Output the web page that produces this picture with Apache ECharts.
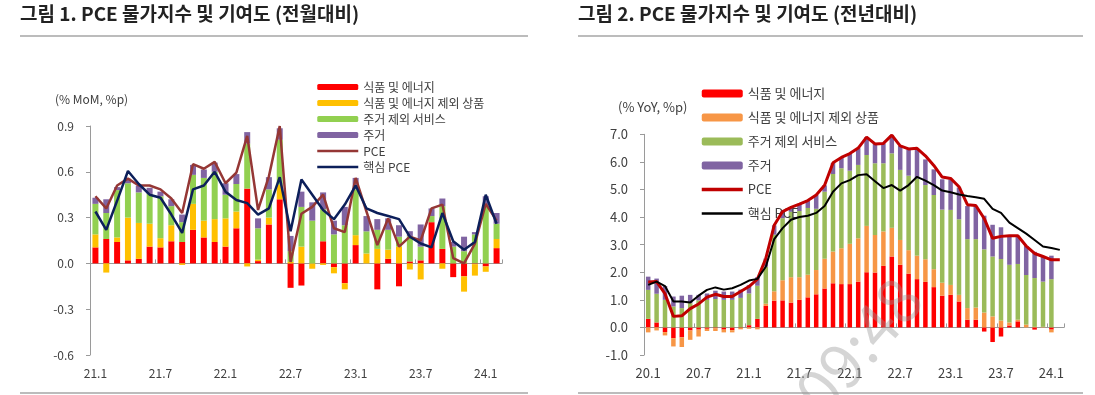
<!DOCTYPE html>
<html>
<head>
<meta charset="utf-8">
<script src="https://cdn.jsdelivr.net/npm/echarts@6/dist/echarts.min.js"></script>
<style>
html,body{margin:0;padding:0;background:#fff;}
#c{width:1095px;height:395px;}
</style>
</head>
<body>
<div id="c"></div>
<script>
// ---------- Figure 1 (MoM) ----------
const leftCats = ['21.1','21.2','21.3','21.4','21.5','21.6','21.7','21.8','21.9','21.10','21.11','21.12',
  '22.1','22.2','22.3','22.4','22.5','22.6','22.7','22.8','22.9','22.10','22.11','22.12',
  '23.1','23.2','23.3','23.4','23.5','23.6','23.7','23.8','23.9','23.10','23.11','23.12',
  '24.1','24.2'];
const leftFoodEnergy = [0.105,0.16,0.14,0.02,0.03,0.11,0.105,0.145,0.14,0.22,0.17,0.14,
  0.11,0.23,0.49,0.015,0.255,0.42,-0.16,-0.145,0.0,0.145,-0.025,-0.13,
  0.12,0.0,-0.17,0.03,-0.15,0.013,0.02,0.27,0.095,-0.09,-0.085,-0.005,
  -0.02,0.1];
const leftCoreGoods = [0.085,-0.06,0.03,0.28,0.235,0.15,0.06,0.105,-0.01,0.17,0.11,0.15,
  0.185,0.11,-0.02,0.01,0.045,0.095,0.01,0.11,-0.035,-0.01,-0.04,-0.04,
  0.065,0.065,0.095,0.06,0.11,-0.04,-0.105,0.0,-0.035,0.0,-0.1,-0.075,
  -0.035,0.06];
const leftServices = [0.2,0.17,0.31,0.225,0.2,0.195,0.275,0.125,0.13,0.19,0.28,0.31,
  0.155,0.18,0.295,0.205,0.185,0.295,0.07,0.26,0.28,0.21,0.19,0.25,
  0.3,0.145,0.125,0.13,0.065,0.165,0.09,0.04,0.28,0.11,0.08,0.19,
  0.37,0.1];
const leftHousing = [0.04,0.09,0.02,0.03,0.045,0.04,0.03,0.045,0.05,0.065,0.055,0.06,
  0.075,0.065,0.075,0.065,0.08,0.075,0.1,0.1,0.12,0.11,0.09,0.12,
  0.075,0.1,0.07,0.075,0.075,0.033,0.145,0.05,0.05,0.03,0.095,0.015,
  0.07,0.07];
const leftPCE = [0.44,0.36,0.51,0.555,0.51,0.51,0.485,0.425,0.33,0.65,0.62,0.665,
  0.525,0.595,0.835,0.35,0.57,0.9,0.01,0.325,0.37,0.45,0.23,0.205,
  0.56,0.34,0.12,0.295,0.11,0.175,0.15,0.36,0.385,0.035,0.0,0.13,
  0.39,0.28];
const leftCorePCE = [0.34,0.22,0.41,0.605,0.52,0.45,0.43,0.32,0.2,0.485,0.51,0.6,
  0.47,0.415,0.395,0.32,0.36,0.565,0.21,0.55,0.45,0.35,0.29,0.385,
  0.51,0.36,0.33,0.31,0.29,0.175,0.13,0.105,0.33,0.145,0.09,0.14,
  0.45,0.26];

// ---------- Figure 2 (YoY) ----------
const rightCats = ['20.1','20.2','20.3','20.4','20.5','20.6','20.7','20.8','20.9','20.10','20.11','20.12',
  '21.1','21.2','21.3','21.4','21.5','21.6','21.7','21.8','21.9','21.10','21.11','21.12',
  '22.1','22.2','22.3','22.4','22.5','22.6','22.7','22.8','22.9','22.10','22.11','22.12',
  '23.1','23.2','23.3','23.4','23.5','23.6','23.7','23.8','23.9','23.10','23.11','23.12',
  '24.1','24.2'];
const rightFoodEnergy = [0.31,0.18,-0.17,-0.39,-0.36,-0.11,-0.08,-0.05,-0.03,-0.08,-0.1,-0.02,
  0.08,0.31,0.78,0.97,0.98,0.9,1.0,1.09,1.2,1.41,1.6,1.57,
  1.57,1.66,2.0,1.99,2.23,2.57,2.27,1.95,1.75,1.65,1.46,1.15,
  1.18,0.94,0.28,0.28,-0.15,-0.53,-0.33,0.07,0.22,0.0,-0.08,0.0,
  -0.08,null];
const rightCoreGoods = [-0.18,-0.11,-0.12,-0.3,-0.35,-0.34,-0.25,-0.08,-0.1,-0.1,-0.08,-0.05,
  -0.05,-0.07,0.08,0.34,0.73,0.92,0.82,0.82,0.88,1.08,1.15,1.3,
  1.46,1.57,1.68,1.36,1.25,1.04,0.9,0.85,0.85,0.82,0.65,0.47,
  0.36,0.24,0.42,0.44,0.54,0.4,0.25,0.11,0.06,0.1,0.02,0.02,
  -0.1,null];
const rightServices = [1.05,1.04,1.0,0.76,0.7,0.88,0.98,1.0,1.03,1.0,1.0,1.07,
  1.15,1.2,1.34,2.05,2.25,2.37,2.4,2.42,2.22,2.43,2.81,2.9,
  2.65,2.66,2.57,2.6,2.47,2.7,2.54,2.7,2.8,2.69,2.69,2.65,
  2.72,2.74,2.5,2.48,2.29,2.17,2.23,2.09,2.02,1.8,1.77,1.64,
  1.75,null];
const rightHousing = [0.48,0.55,0.5,0.36,0.45,0.3,0.2,0.23,0.3,0.3,0.3,0.3,
  0.3,0.31,0.3,0.34,0.25,0.16,0.25,0.27,0.5,0.23,0.4,0.39,
  0.62,0.61,0.65,0.7,0.72,0.66,0.87,0.95,1.05,0.93,0.93,1.1,
  1.1,1.15,1.2,1.2,1.22,1.15,1.15,1.05,1.02,1.05,0.95,0.91,
  0.85,null];
const rightPCE = [1.65,1.66,1.22,0.4,0.42,0.68,0.85,1.1,1.2,1.12,1.12,1.3,
  1.48,1.75,2.5,3.7,4.2,4.35,4.47,4.6,4.8,5.15,5.97,6.16,
  6.3,6.5,6.9,6.65,6.67,6.97,6.58,6.47,6.49,6.22,5.87,5.45,
  5.4,5.1,4.45,4.42,3.95,3.23,3.3,3.32,3.32,2.95,2.68,2.57,
  2.45,2.45];
const rightCorePCE = [1.54,1.66,1.5,0.94,0.94,0.9,1.15,1.36,1.45,1.37,1.42,1.54,
  1.7,1.76,2.2,3.2,3.6,3.9,4.0,4.05,4.15,4.4,4.92,5.22,
  5.34,5.52,5.55,5.3,5.05,5.16,4.96,5.16,5.46,5.32,5.16,4.96,
  4.9,4.82,4.76,4.72,4.66,4.3,4.15,3.8,3.6,3.4,3.17,2.93,
  2.88,2.81];

const leftNames = ['식품 및 에너지','식품 및 에너지 제외 상품','주거 제외 서비스','주거','PCE','핵심 PCE'];
// trailing space keeps right-panel series distinct from left-panel ones
const rightNames = leftNames.map(n => n + ' ');

const FONT = '"Noto Sans CJK KR","Noto Sans",sans-serif';
const TXT = '#404040';
const AX = '#9a9a9a';

const chart = echarts.init(document.getElementById('c'), null, {renderer: 'canvas'});

function barSeries(name, data, color, xi, yi, stack, bw) {
  return {name, type: 'bar', data, stack, xAxisIndex: xi, yAxisIndex: yi,
    barWidth: bw, itemStyle: {color}, emphasis: {disabled: true}, animation: false};
}
function lineSeries(name, data, color, width, xi, yi) {
  return {name, type: 'line', data, xAxisIndex: xi, yAxisIndex: yi, symbol: 'none',
    lineStyle: {color, width}, itemStyle: {color}, z: 5, emphasis: {disabled: true}, animation: false};
}
// legend entries: line series get no marker dot
const legendData = (names, widths) => names.map((n, i) => i >= 4
  ? {name: n, itemStyle: {opacity: 0, color: 'rgba(0,0,0,0)', borderWidth: 0},
     lineStyle: {width: widths[i - 4]}}
  : {name: n});

const catAxisLine = (gi, cats) => ({
  type: 'category', gridIndex: gi, data: cats, boundaryGap: true, position: 'bottom',
  axisLine: {show: true, onZero: true, lineStyle: {color: AX, width: 1}},
  axisTick: {show: true, inside: true, interval: 5, length: 4, lineStyle: {color: AX}},
  axisLabel: {show: false}, splitLine: {show: false}
});
const catAxisLabel = (gi, cats, fs) => ({
  type: 'category', gridIndex: gi, data: cats, boundaryGap: true, position: 'bottom',
  axisLine: {show: false, onZero: false}, axisTick: {show: false},
  axisLabel: {show: true, interval: 5, margin: 12, color: TXT, fontSize: fs, fontFamily: FONT},
  splitLine: {show: false}
});

const option = {
  animation: false,
  backgroundColor: '#fff',
  grid: [
    {left: 90, top: 126, width: 412, height: 229},
    {left: 644, top: 134.3, width: 420, height: 220.7}
  ],
  xAxis: [
    catAxisLine(0, leftCats), catAxisLabel(0, leftCats, 12),
    catAxisLine(1, rightCats), catAxisLabel(1, rightCats, 13)
  ],
  yAxis: [
    {type: 'value', gridIndex: 0, min: -0.6, max: 0.9, interval: 0.3,
      axisLine: {show: true, lineStyle: {color: AX}},
      axisTick: {show: true, length: 4, lineStyle: {color: AX}},
      axisLabel: {color: TXT, fontSize: 12, fontFamily: FONT, margin: 16, formatter: v => v.toFixed(1)},
      splitLine: {show: false}},
    {type: 'value', gridIndex: 1, min: -1, max: 7, interval: 1,
      axisLine: {show: true, lineStyle: {color: AX}},
      axisTick: {show: true, length: 4, lineStyle: {color: AX}},
      axisLabel: {color: TXT, fontSize: 13, fontFamily: FONT, margin: 16, formatter: v => v.toFixed(1)},
      splitLine: {show: false}}
  ],
  legend: [
    {data: legendData(leftNames, [2.5, 2.5]), orient: 'vertical', left: 311, top: 76, itemWidth: 41, itemHeight: 6,
      itemGap: 4, itemTextGap: 4, selectedMode: false,
      textStyle: {color: TXT, fontSize: 12, fontFamily: FONT}},
    {data: legendData(rightNames, [3.5, 2.5]), orient: 'vertical', left: 695, top: 82, itemWidth: 41, itemHeight: 8,
      itemGap: 11, itemTextGap: 4, selectedMode: false,
      textStyle: {color: TXT, fontSize: 13, fontFamily: FONT}}
  ],
  series: [
    barSeries(leftNames[0], leftFoodEnergy, '#ff0000', 0, 0, 'L', 6),
    barSeries(leftNames[1], leftCoreGoods, '#ffc000', 0, 0, 'L', 6),
    barSeries(leftNames[2], leftServices, '#92d050', 0, 0, 'L', 6),
    barSeries(leftNames[3], leftHousing, '#8064a2', 0, 0, 'L', 6),
    lineSeries(leftNames[4], leftPCE, '#953735', 2.5, 1, 0),
    lineSeries(leftNames[5], leftCorePCE, '#0c1f5a', 2.5, 1, 0),
    barSeries(rightNames[0], rightFoodEnergy, '#ff0000', 2, 1, 'R', 4.5),
    barSeries(rightNames[1], rightCoreGoods, '#f79646', 2, 1, 'R', 4.5),
    barSeries(rightNames[2], rightServices, '#9bbb59', 2, 1, 'R', 4.5),
    barSeries(rightNames[3], rightHousing, '#8064a2', 2, 1, 'R', 4.5),
    lineSeries(rightNames[4], rightPCE, '#c00000', 3, 3, 1),
    lineSeries(rightNames[5], rightCorePCE, '#000000', 2, 3, 1)
  ],
  graphic: [
    {type: 'text', left: 20, top: 4, style: {text: '그림 1. PCE 물가지수 및 기여도 (전월대비)',
      font: 'bold 19px ' + FONT, fill: '#222'}},
    {type: 'text', left: 578, top: 4, style: {text: '그림 2. PCE 물가지수 및 기여도 (전년대비)',
      font: 'bold 19px ' + FONT, fill: '#222'}},
    {type: 'line', shape: {x1: 20, y1: 36, x2: 528, y2: 36}, style: {stroke: '#a6a6a6', lineWidth: 1.5}},
    {type: 'line', shape: {x1: 578, y1: 36, x2: 1083, y2: 36}, style: {stroke: '#a6a6a6', lineWidth: 1.5}},
    {type: 'line', shape: {x1: 20, y1: 393, x2: 528, y2: 393}, style: {stroke: '#a6a6a6', lineWidth: 1.5}},
    {type: 'line', shape: {x1: 578, y1: 393, x2: 1083, y2: 393}, style: {stroke: '#a6a6a6', lineWidth: 1.5}},
    {type: 'text', left: 55, top: 93, style: {text: '(% MoM, %p)', font: '12px ' + FONT, fill: TXT}},
    {type: 'text', left: 618, top: 101, style: {text: '(% YoY, %p)', font: '13px ' + FONT, fill: TXT}},
    {type: 'text', x: 858, y: 345, rotation: 0.85, z: 100, silent: true,
      style: {text: '09:48', font: '62px ' + FONT, fill: 'rgba(150,150,150,0.4)',
        textAlign: 'center', textVerticalAlign: 'middle'}}
  ]
};
chart.setOption(option);
</script>
</body>
</html>
